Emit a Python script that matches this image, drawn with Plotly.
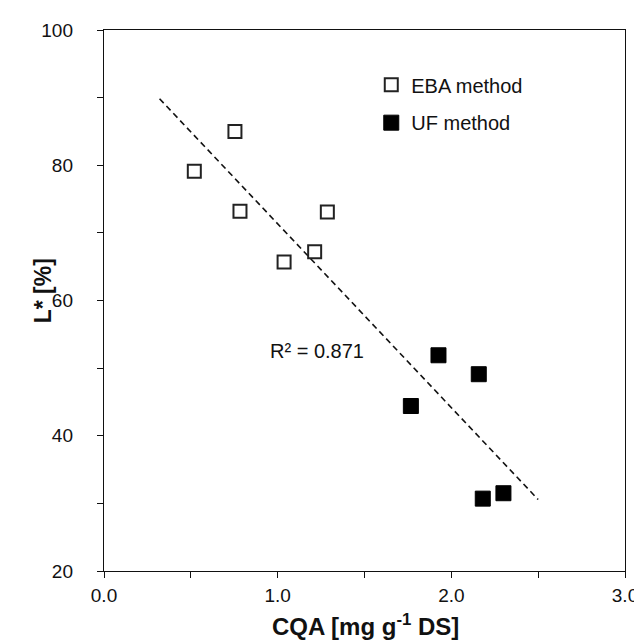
import numpy as np
import plotly.graph_objects as go

# EBA method (open squares)
eba_x = [0.52, 0.754, 0.783, 1.037, 1.213, 1.286]
eba_y = [79.1, 85.0, 73.2, 65.7, 67.2, 73.1]
# UF method (filled squares)
uf_x = [1.767, 1.926, 2.158, 2.181, 2.300]
uf_y = [44.4, 51.9, 49.1, 30.7, 31.5]

trend_range = [0.32, 2.5]
r2_text = "R² = 0.871"

all_x = np.array(eba_x + uf_x)
all_y = np.array(eba_y + uf_y)
slope, intercept = np.polyfit(all_x, all_y, 1)
tx = np.array(trend_range)
ty = slope * tx + intercept

FONT = "Liberation Sans, Arial, sans-serif"

fig = go.Figure()
fig.add_trace(go.Scatter(x=tx, y=ty, mode="lines", showlegend=False,
                         line=dict(color="#111", width=1.6, dash="6px,4px")))
fig.add_trace(go.Scatter(x=eba_x, y=eba_y, mode="markers", name="EBA method",
                         legend="legend",
                         marker=dict(symbol="square-open", size=13, color="#222",
                                     line=dict(width=2, color="#222"))))
fig.add_trace(go.Scatter(x=uf_x, y=uf_y, mode="markers", name="UF method",
                         legend="legend2",
                         marker=dict(symbol="square", size=15, color="#000",
                                     line=dict(width=1, color="#000"))))

axis_common = dict(showline=True, linecolor="#111", linewidth=1.4, mirror=True,
                   showgrid=False, zeroline=False, ticks="outside", ticklen=6,
                   tickwidth=1.4, tickcolor="#111",
                   tickfont=dict(family=FONT, size=19, color="#111"))

fig.update_xaxes(range=[0, 3.0], dtick=1.0, tick0=0, tickformat=".1f",
                 ticklabelstandoff=1,
                 minor=dict(dtick=0.5, ticks="outside", ticklen=6, tickwidth=1.4, tickcolor="#111"),
                 **axis_common)
fig.update_yaxes(range=[20, 100], dtick=20, tick0=0,
                 ticklabelstandoff=20,
                 minor=dict(dtick=10, ticks="outside", ticklen=6, tickwidth=1.4, tickcolor="#111"),
                 **axis_common)

legend_style = dict(font=dict(family=FONT, size=20, color="#111"), bgcolor="rgba(0,0,0,0)",
                    itemwidth=30, xanchor="left", yanchor="middle")
fig.update_layout(
    width=642, height=644,
    margin=dict(l=96, r=16, t=20, b=81),
    paper_bgcolor="white", plot_bgcolor="white",
    legend=dict(x=0.513, y=(563 - 75) / 543, **legend_style),
    legend2=dict(x=0.513, y=(563 - 113) / 543, **legend_style),
    annotations=[
        dict(x=1.224, y=52.6, xref="x", yref="y", text=r2_text, showarrow=False,
             font=dict(family=FONT, size=20, color="#111")),
        dict(x=(362 - 96) / 530, y=-(634 - 563) / 543, xref="paper", yref="paper",
             text="<b>CQA [mg g<sup>-1</sup> DS]</b>", showarrow=False,
             font=dict(family=FONT, size=24, color="#111")),
        dict(x=-(96 - 19) / 530, y=(563 - 282) / 543, xref="paper", yref="paper",
             text="<b>L* [%]</b>", textangle=-90, showarrow=False,
             font=dict(family=FONT, size=23, color="#111")),
    ],
)

fig.write_html("out.html")
